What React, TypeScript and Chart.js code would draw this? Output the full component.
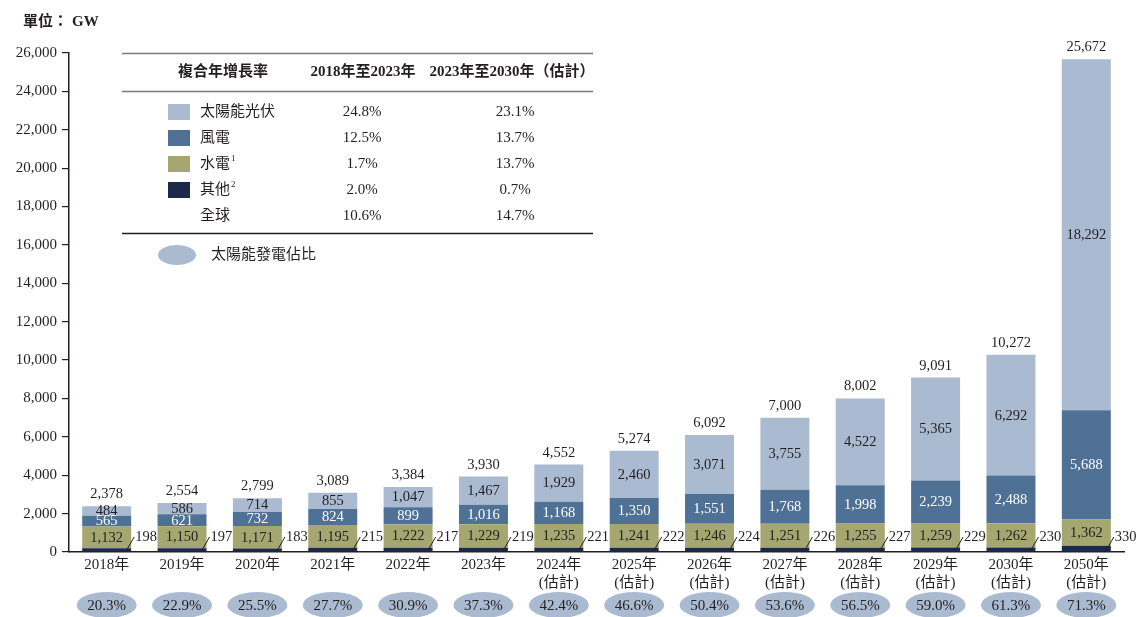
import React, { useEffect, useRef } from "react";
import { Chart, registerables } from "chart.js";

Chart.register(...registerables);

const years = ["2018年", "2019年", "2020年", "2021年", "2022年", "2023年", "2024年", "2025年", "2026年", "2027年", "2028年", "2029年", "2030年", "2050年"];
const estimated = [false, false, false, false, false, false, true, true, true, true, true, true, true, true];
const estimateTag = "(估計)";
const otherValues = [198, 197, 183, 215, 217, 219, 221, 222, 224, 226, 227, 229, 230, 330];
const hydroValues = [1132, 1150, 1171, 1195, 1222, 1229, 1235, 1241, 1246, 1251, 1255, 1259, 1262, 1362];
const windValues = [565, 621, 732, 824, 899, 1016, 1168, 1350, 1551, 1768, 1998, 2239, 2488, 5688];
const solarValues = [484, 586, 714, 855, 1047, 1467, 1929, 2460, 3071, 3755, 4522, 5365, 6292, 18292];
const totalValues = [2378, 2554, 2799, 3089, 3384, 3930, 4552, 5274, 6092, 7000, 8002, 9091, 10272, 25672];
const solarShare = ["20.3%", "22.9%", "25.5%", "27.7%", "30.9%", "37.3%", "42.4%", "46.6%", "50.4%", "53.6%", "56.5%", "59.0%", "61.3%", "71.3%"];

const tableHeader = ["複合年增長率", "2018年至2023年", "2023年至2030年（估計）"];
const tableNames = ["太陽能光伏", "風電", "水電", "其他", "全球"];
const tableSup = ["", "", "1", "2", ""];
const cagr2018to2023 = ["24.8%", "12.5%", "1.7%", "2.0%", "10.6%"];
const cagr2023to2030 = ["23.1%", "13.7%", "13.7%", "0.7%", "14.7%"];
const shareLegend = "太陽能發電佔比";
const unitLabel = "單位：";
const unitValue = "GW";

const C_SOLAR = "#aabad1";
const C_WIND = "#4e7195";
const C_HYDRO = "#a6a670";
const C_OTHER = "#1b2a4b";
const TEXT = "#231f20";
const FONT = "'Liberation Serif', 'Noto Sans CJK TC', serif";

const fmt = (v: number) => v.toLocaleString("en-US");

const overlay = {
  id: "overlay",
  afterDatasetsDraw(chart: any) {
    const ctx = chart.ctx as CanvasRenderingContext2D;
    const yScale = chart.scales.y;
    const zeroY = yScale.getPixelForValue(0);
    ctx.save();
    const metaOther = chart.getDatasetMeta(0);
    const metaHydro = chart.getDatasetMeta(1);
    const metaWind = chart.getDatasetMeta(2);
    const metaSolar = chart.getDatasetMeta(3);
    ctx.font = `14.5px ${FONT}`;
    ctx.textAlign = "center";
    ctx.textBaseline = "middle";
    years.forEach((_, i) => {
      const h = metaHydro.data[i];
      const w = metaWind.data[i];
      const s = metaSolar.data[i];
      const o = metaOther.data[i];
      ctx.fillStyle = TEXT;
      ctx.fillText(fmt(hydroValues[i]), h.x, (h.y + h.base) / 2 + 0.5);
      ctx.fillStyle = "#ffffff";
      ctx.fillText(fmt(windValues[i]), w.x, (w.y + w.base) / 2 + 0.5);
      ctx.fillStyle = TEXT;
      ctx.fillText(fmt(solarValues[i]), s.x, (s.y + s.base) / 2 + 0.5);
      // total
      const topY = yScale.getPixelForValue(totalValues[i]);
      ctx.textBaseline = "alphabetic";
      ctx.fillText(fmt(totalValues[i]), s.x, topY - 8);
      ctx.textBaseline = "middle";
      // other label with leader line
      const right = o.x + o.width / 2;
      ctx.strokeStyle = TEXT;
      ctx.lineWidth = 1;
      ctx.beginPath();
      ctx.moveTo(right - 5, zeroY - 1);
      ctx.lineTo(right + 3, zeroY - 15);
      ctx.stroke();
      ctx.textAlign = "left";
      ctx.fillText(fmt(otherValues[i]), right + 4, zeroY - 15);
      ctx.textAlign = "center";
      // share ellipse
      ctx.fillStyle = C_SOLAR;
      ctx.beginPath();
      ctx.ellipse(o.x, 605, 30, 13, 0, 0, Math.PI * 2);
      ctx.fill();
      ctx.fillStyle = TEXT;
      ctx.font = `15px ${FONT}`;
      ctx.fillText(solarShare[i], o.x, 606);
      ctx.font = `14.5px ${FONT}`;
    });

    // unit
    ctx.textAlign = "left";
    ctx.font = `bold 15px ${FONT}`;
    ctx.fillStyle = TEXT;
    ctx.fillText(unitLabel, 23, 22);
    ctx.fillText(unitValue, 72, 22);

    // table
    const x0 = 122, x1 = 593;
    ctx.strokeStyle = "#7a7a7a";
    ctx.lineWidth = 1.5;
    ctx.beginPath();
    ctx.moveTo(x0, 53.5); ctx.lineTo(x1, 53.5);
    ctx.moveTo(x0, 91.5); ctx.lineTo(x1, 91.5);
    ctx.stroke();
    ctx.strokeStyle = TEXT;
    ctx.beginPath();
    ctx.moveTo(x0, 233.5); ctx.lineTo(x1, 233.5);
    ctx.stroke();

    ctx.textAlign = "center";
    ctx.font = `bold 15px ${FONT}`;
    ctx.fillText(tableHeader[0], 223, 72);
    ctx.fillText(tableHeader[1], 363, 72);
    ctx.fillText(tableHeader[2], 512, 72);

    const swatches = [C_SOLAR, C_WIND, C_HYDRO, C_OTHER, null];
    tableNames.forEach((name, r) => {
      const ry = 112 + r * 26;
      const sw = swatches[r];
      if (sw) {
        ctx.fillStyle = sw;
        ctx.fillRect(168, ry - 8, 22, 16);
      }
      ctx.fillStyle = TEXT;
      ctx.font = `15px ${FONT}`;
      ctx.textAlign = "left";
      ctx.fillText(name, 200, ry);
      if (tableSup[r]) {
        const wName = ctx.measureText(name).width;
        ctx.font = `9px ${FONT}`;
        ctx.fillText(tableSup[r], 200 + wName + 1, ry - 5);
        ctx.font = `15px ${FONT}`;
      }
      ctx.textAlign = "center";
      ctx.fillText(cagr2018to2023[r], 362, ry);
      ctx.fillText(cagr2023to2030[r], 515, ry);
    });

    ctx.fillStyle = C_SOLAR;
    ctx.beginPath();
    ctx.ellipse(177, 255, 19, 10, 0, 0, Math.PI * 2);
    ctx.fill();
    ctx.fillStyle = TEXT;
    ctx.textAlign = "left";
    ctx.font = `15px ${FONT}`;
    ctx.fillText(shareLegend, 211, 255);
    ctx.restore();
  },
};

export default function App() {
  const ref = useRef<HTMLCanvasElement | null>(null);
  useEffect(() => {
    if (!ref.current) return;
    const labels = years.map((y, i) => (estimated[i] ? [y, estimateTag] : y));
    const common = { barPercentage: 0.65, categoryPercentage: 1, borderWidth: 0 };
    const chart = new Chart(ref.current, {
      type: "bar",
      data: {
        labels,
        datasets: [
          { label: "其他", data: otherValues, backgroundColor: C_OTHER, ...common },
          { label: "水電", data: hydroValues, backgroundColor: C_HYDRO, ...common },
          { label: "風電", data: windValues, backgroundColor: C_WIND, ...common },
          { label: "太陽能光伏", data: solarValues, backgroundColor: C_SOLAR, ...common },
        ],
      },
      options: {
        animation: false,
        responsive: true,
        maintainAspectRatio: false,
        layout: { padding: { top: 53, right: 13, left: 0, bottom: 0 } },
        plugins: { legend: { display: false }, tooltip: { enabled: false } },
        scales: {
          x: {
            stacked: true,
            grid: { display: false, drawTicks: false },
            border: { display: true, color: TEXT, width: 1.5 },
            ticks: { font: { family: FONT, size: 15 }, color: TEXT, padding: 4, maxRotation: 0, autoSkip: false },
            afterFit: (s: any) => { s.height = 65; },
          },
          y: {
            stacked: true,
            min: 0,
            max: 26000,
            ticks: { stepSize: 2000, callback: (v: any) => fmt(Number(v)), font: { family: FONT, size: 15 }, color: TEXT, padding: 5 },
            grid: { drawOnChartArea: false, drawTicks: true, tickLength: 7, color: TEXT, lineWidth: 1.2 },
            border: { display: true, color: TEXT, width: 1.5 },
            afterFit: (s: any) => { s.width = 69; },
          },
        },
      } as any,
      plugins: [overlay],
    });
    return () => chart.destroy();
  }, []);
  return (
    <div style={{ position: "fixed", left: 0, top: 0, width: 1137, height: 617, background: "#fff" }}>
      <canvas ref={ref} />
    </div>
  );
}
